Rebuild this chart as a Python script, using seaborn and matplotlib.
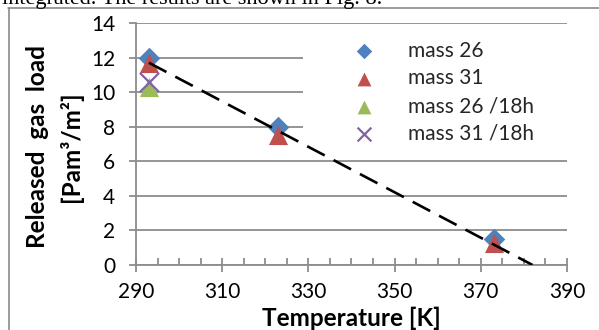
import matplotlib
matplotlib.use("Agg")
import matplotlib.pyplot as plt
import seaborn as sns
import pandas as pd
from matplotlib.lines import Line2D
from matplotlib.patches import Rectangle
from matplotlib.ticker import MultipleLocator

# ---- data ----
series_labels = ["mass 26", "mass 31", "mass 26 /18h", "mass 31 /18h"]
temp_26 = [293, 323, 373]
load_26 = [12.0, 8.0, 1.5]
temp_31 = [293, 323, 373]
load_31 = [11.7, 7.5, 1.3]
temp_26_18h = [293]
load_26_18h = [10.3]
temp_31_18h = [293]
load_31_18h = [10.6]
trend_temp = [293, 382]
trend_load = [11.7, 0.0]
x_ticks = [290, 310, 330, 350, 370, 390]
y_ticks = [0, 2, 4, 6, 8, 10, 12, 14]

colors = ["#4F81BD", "#C0504D", "#9BBB59", "#8064A2"]
markers = ["D", "^", "^", "x"]
sizes = [120, 190, 190, 190]

sns.set_theme(style="white")
plt.rcParams["font.family"] = ["Lato", "DejaVu Sans"]

fig = plt.figure(figsize=(5.99, 3.30), dpi=100)
ax = fig.add_axes([0.227, 0.197, 0.7196, 0.7333])

grid_col = "#8c8c8c"

# legend background (hides grid lines like the original)
ax.add_patch(Rectangle((0.3875, 0.525), 0.62, 0.438, transform=ax.transAxes,
                       facecolor="white", edgecolor="none", zorder=1.5, clip_on=False))

all_series = [
    (temp_26, load_26),
    (temp_31, load_31),
    (temp_26_18h, load_26_18h),
    (temp_31_18h, load_31_18h),
]
for i, ((tx, ly), lab) in enumerate(zip(all_series, series_labels)):
    df = pd.DataFrame({"T": tx, "load": ly})
    kw = dict(linewidth=0)
    if markers[i] == "x":
        kw = dict(linewidth=1.6)
    sns.scatterplot(data=df, x="T", y="load", ax=ax, marker=markers[i], s=sizes[i],
                    color=colors[i], label=lab, zorder=3 + i, clip_on=False, **kw)

trend_df = pd.DataFrame({"T": trend_temp, "load": trend_load})
sns.lineplot(data=trend_df, x="T", y="load", ax=ax, color="black", linewidth=1.9,
             dashes=False, zorder=10, legend=False)
ax.lines[-1].set_dashes((7.5, 3.8))

ax.set_xlim(290, 390)
ax.set_ylim(0, 14)
ax.set_xticks(x_ticks)
ax.set_yticks(y_ticks)
ax.xaxis.set_minor_locator(MultipleLocator(5))

ax.yaxis.grid(True, color=grid_col, linewidth=1.3, zorder=0)
ax.set_axisbelow(True)
for s in ["top", "right"]:
    ax.spines[s].set_visible(False)
for s in ["left", "bottom"]:
    ax.spines[s].set_color(grid_col)
    ax.spines[s].set_linewidth(1.3)

ax.tick_params(axis="x", which="major", direction="inout", length=10, width=1.3,
               color=grid_col, pad=7, labelsize=15, labelcolor="black", bottom=True)
ax.tick_params(axis="x", which="minor", direction="in", length=5, width=1.3,
               color=grid_col, bottom=True)
ax.tick_params(axis="y", which="major", direction="out", length=5, width=1.3,
               color=grid_col, pad=10, labelsize=15, labelcolor="black", left=True)

ax.set_xlabel("Temperature [K]", fontsize=17.5, fontweight="bold", color="black")
ax.xaxis.set_label_coords(0.499, -0.222)
ax.xaxis.label.set_va("center")
ax.set_ylabel("Released  gas  load\n[Pam³/m²]", fontsize=17.5, fontweight="bold",
              color="black", linespacing=1.5)
ax.yaxis.set_label_coords(-0.19, 0.49)
ax.yaxis.label.set_va("center")

leg = ax.legend(loc="upper left", bbox_to_anchor=(0.505, 0.927), frameon=False,
                fontsize=15, markerscale=0.72, handlelength=1.0, handletextpad=1.6,
                labelspacing=0.37, borderaxespad=0, borderpad=0)

# page frame and the clipped caption line above the chart
fig.add_artist(Line2D([8 / 599, 1.0], [1 - 8 / 330, 1 - 8 / 330], color="#808080",
                      linewidth=1.1, transform=fig.transFigure))
fig.add_artist(Line2D([9 / 599, 9 / 599], [0, 1 - 8 / 330], color="#808080",
                      linewidth=1.1, transform=fig.transFigure))
fig.text(2 / 599, 1 - 4 / 330, "integrated. The results are shown in Fig. 8.",
         family=["Liberation Serif", "DejaVu Serif"], fontsize=16, va="baseline",
         ha="left", color="black")

fig.savefig("out.png", dpi=100)
